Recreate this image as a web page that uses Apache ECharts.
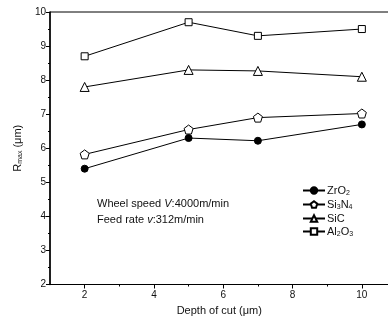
<!DOCTYPE html>
<html><head><meta charset="utf-8">
<script src="https://cdn.jsdelivr.net/npm/echarts@6/dist/echarts.min.js"></script>
<style>html,body{margin:0;padding:0;background:#fff;overflow:hidden}#c{width:388px;height:324px}</style>
</head><body><div id="c"></div>
<script>
var depths = [2, 5, 7, 10];
var zro2 = [5.4, 6.3, 6.22, 6.7];
var si3n4 = [5.82, 6.55, 6.9, 7.02];
var sic = [7.8, 8.3, 8.27, 8.1];
var al2o3 = [8.7, 9.7, 9.3, 9.5];
var xMajorTicks = [2, 4, 6, 8, 10];
var xMinorTicks = [3, 5, 7, 9];
var seriesNames = ['ZrO2', 'Si3N4', 'SiC', 'Al2O3'];
var legendLabels = {'ZrO2': 'ZrO{s|2}', 'Si3N4': 'Si{s|3}N{s|4}', 'SiC': 'SiC', 'Al2O3': 'Al{s|2}O{s|3}'};

function pairs(v){ return depths.map(function(d,i){ return [d, v[i]]; }); }
var pent = 'path://M0,-10 L9.5,-3.1 L5.9,8.1 L-5.9,8.1 L-9.5,-3.1 Z';
var font = 'Arial, "Liberation Sans", sans-serif';
function mk(name, data, symbol, fill, size){
  return {type:'line', name:name, data:pairs(data), symbol:symbol, symbolSize:size,
    itemStyle:{color:fill, borderColor:'#000', borderWidth:1},
    lineStyle:{color:'#000', width:1}, emphasis:{disabled:true}, animation:false};
}
var chart = echarts.init(document.getElementById('c'));
chart.setOption({
  backgroundColor:'#fff',
  animation:false,
  grid:{left:50, width:346.5, top:12, height:272.5, show:true, borderColor:'#000', borderWidth:1,
    containLabel:false, outerBoundsMode:'none'},
  xAxis:[{type:'value', min:1, max:11, position:'bottom',
    name:'Depth of cut (\u03bcm)', nameLocation:'middle', nameGap:20,
    nameTextStyle:{fontFamily:font, fontSize:11, color:'#111', padding:[0,8,0,0]},
    axisLine:{lineStyle:{color:'#000', width:1}},
    axisTick:{customValues:xMajorTicks, length:4, lineStyle:{color:'#000'}},
    axisLabel:{customValues:xMajorTicks, fontFamily:font, fontSize:10, color:'#111', margin:6},
    splitLine:{show:false}},
   {type:'value', min:1, max:11, position:'bottom', gridIndex:0,
    axisLine:{show:false},
    axisTick:{customValues:xMinorTicks, length:2, lineStyle:{color:'#000'}},
    axisLabel:{show:false}, splitLine:{show:false}}],
  yAxis:{type:'value', min:2, max:10, interval:1,
    name:'R{s|max} (\u03bcm)', nameLocation:'middle', nameGap:19,
    nameTextStyle:{fontFamily:font, fontSize:11, color:'#111', rich:{s:{fontSize:7, verticalAlign:'bottom', padding:[6,0,0,0], fontFamily:font}}},
    axisLine:{show:true, lineStyle:{color:'#000', width:1.5}},
    axisTick:{length:4, lineStyle:{color:'#000'}},
    minorTick:{show:true, splitNumber:2, length:2, lineStyle:{color:'#000'}},
    axisLabel:{fontFamily:font, fontSize:10, color:'#111', margin:4},
    splitLine:{show:false}},
  legend:{orient:'vertical', left:297, top:180, itemGap:2, itemWidth:22, itemHeight:8,
    data:seriesNames,
    formatter:function(n){ return legendLabels[n]; },
    textStyle:{fontFamily:font, fontSize:11, color:'#111', padding:[0,0,0,-3],
      rich:{s:{fontSize:7, fontFamily:font, color:'#111', padding:[6,0,0,0]}}}},
  graphic:[{type:'text', left:97, top:198, style:{
      text:'Wheel speed {i|V}:4000m/min', font:'11px '+font, fill:'#111',
      rich:{i:{fontStyle:'italic', fontFamily:font, fontSize:11}}}},
    {type:'text', left:97, top:214, style:{
      text:'Feed rate {i|v}:312m/min', font:'11px '+font, fill:'#111',
      rich:{i:{fontStyle:'italic', fontFamily:font, fontSize:11}}}}],
  series:[
    mk('ZrO2', zro2, 'circle', '#000', 7),
    mk('Si3N4', si3n4, pent, '#fff', 9),
    mk('SiC', sic, 'triangle', '#fff', 9),
    mk('Al2O3', al2o3, 'rect', '#fff', 7)
  ]
});
</script></body></html>
